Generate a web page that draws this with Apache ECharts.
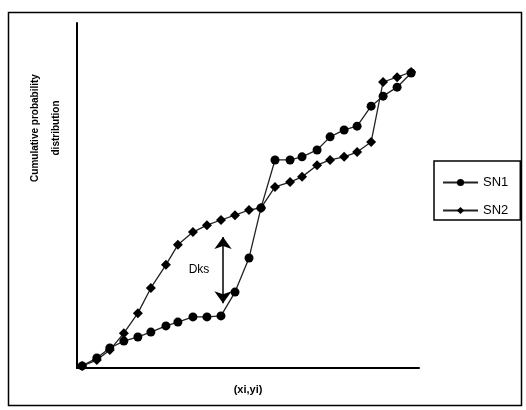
<!DOCTYPE html>
<html>
<head>
<meta charset="utf-8">
<script src="https://cdn.jsdelivr.net/npm/echarts@6/dist/echarts.min.js"></script>
<style>html,body{margin:0;padding:0;background:#fff}#c{width:526px;height:410px}</style>
</head>
<body>
<div id="c"></div>
<script>
// Data (x and y in 0..100 units)
const xValues = [1.5, 5.8, 9.6, 13.7, 17.8, 21.6, 26.0, 29.5, 33.9, 38.0, 42.1, 46.2, 50.3, 53.8, 57.9, 62.3, 65.8, 70.2, 74.0, 78.1, 81.9, 86.0, 89.5, 93.6, 97.7];
const sn1 = [0.6, 2.9, 5.8, 7.8, 9.0, 10.4, 12.2, 13.3, 14.8, 14.8, 15.1, 22.0, 31.9, 46.4, 60.3, 60.3, 61.2, 63.2, 67.0, 69.0, 70.1, 75.9, 78.8, 81.4, 85.5];
const sn2 = [0.6, 2.3, 5.2, 10.1, 15.9, 23.2, 29.9, 35.7, 39.4, 41.4, 42.9, 44.3, 45.8, 46.4, 52.5, 53.9, 55.4, 58.8, 60.3, 61.2, 62.6, 65.5, 82.9, 84.3, 85.8];
const seriesNames = ['SN1', 'SN2'];
const dksArrow = { x: 42.7, yLow: 18.8, yHigh: 38.0, label: 'Dks' };
const xName = '(xi,yi)';
const yName = 'Cumulative probability\ndistribution';

const pairs = arr => xValues.map((x, i) => [x, arr[i]]);
const chart = echarts.init(document.getElementById('c'), null, { renderer: 'canvas' });
const font = 'Liberation Sans, Arial, sans-serif';
chart.setOption({
  animation: false,
  backgroundColor: '#fff',
  grid: { left: 77, top: 23, right: 107, bottom: 42 },
  xAxis: {
    type: 'value', min: 0, max: 100,
    name: xName, nameLocation: 'middle', nameGap: 16,
    nameTextStyle: { fontFamily: font, fontWeight: 'bold', fontSize: 11, color: '#000' },
    axisLine: { lineStyle: { color: '#000', width: 2 } },
    axisTick: { show: false }, axisLabel: { show: false }, splitLine: { show: false }
  },
  yAxis: {
    type: 'value', min: 0, max: 100,
    axisLine: { show: true, lineStyle: { color: '#000', width: 2 } },
    axisTick: { show: false }, axisLabel: { show: false }, splitLine: { show: false }
  },
  legend: {
    orient: 'vertical', left: 434, top: 161,
    padding: [15, 12, 3, 8], itemGap: 15,
    itemWidth: 35, itemHeight: 9,
    borderColor: '#000', borderWidth: 1.5, borderRadius: 0,
    textStyle: { fontFamily: font, fontSize: 13, color: '#000' },
    data: seriesNames
  },
  series: [
    {
      name: seriesNames[0], type: 'line', data: pairs(sn1),
      symbol: 'circle', symbolSize: 9,
      lineStyle: { color: '#222', width: 1.3 },
      itemStyle: { color: '#000' },
      markLine: {
        silent: true, symbol: ['arrow', 'arrow'], symbolSize: [13, 12],
        lineStyle: { color: '#000', width: 1.5, type: 'solid' },
        label: { show: false },
        data: [[{ coord: [dksArrow.x, dksArrow.yLow] }, { coord: [dksArrow.x, dksArrow.yHigh] }]]
      }
    },
    {
      name: seriesNames[1], type: 'line', data: pairs(sn2),
      symbol: 'diamond', symbolSize: 10,
      lineStyle: { color: '#222', width: 1.3 },
      itemStyle: { color: '#000' }
    }
  ],
  graphic: [
    { type: 'rect', left: 6, top: 10, shape: { width: 513, height: 393 }, style: { fill: null, stroke: '#000', lineWidth: 1.5 }, z: -1 },
    { type: 'text', x: 46, y: 128, rotation: Math.PI / 2,
      style: { text: yName, fontFamily: font, fontWeight: 'bold', fontSize: 10, fill: '#000', align: 'center', verticalAlign: 'middle', lineHeight: 21 } },
    { type: 'text', x: 199, y: 270,
      style: { text: dksArrow.label, fontFamily: font, fontSize: 12, fill: '#000', align: 'center', verticalAlign: 'middle' } }
  ]
});
</script>
</body>
</html>
